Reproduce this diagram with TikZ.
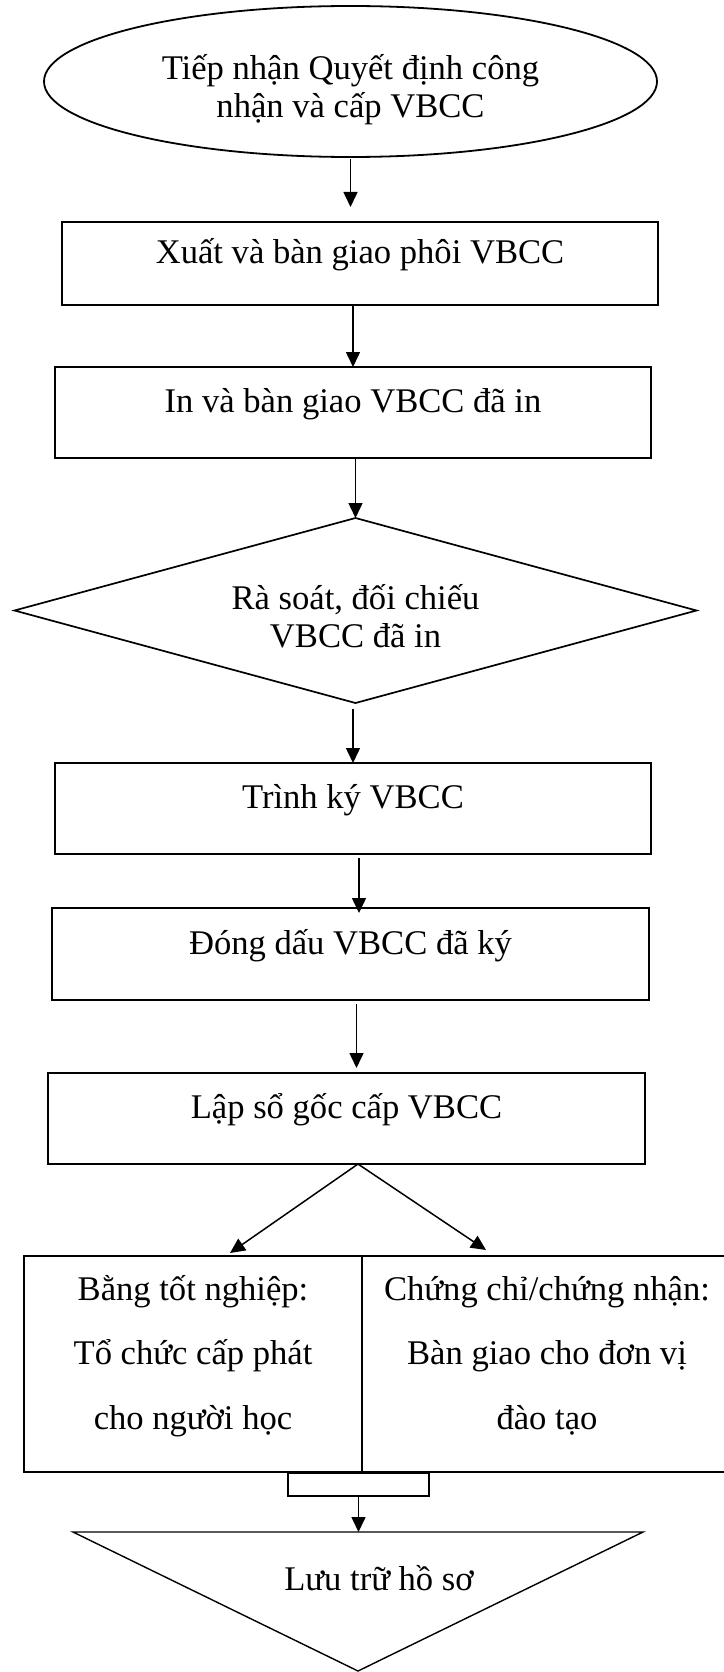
\documentclass[tikz,border=0pt]{standalone}
\usepackage{fontspec}
\setmainfont{Liberation Serif}
\usetikzlibrary{shapes.geometric,arrows.meta}

\begin{document}
\begin{tikzpicture}[x=1pt,y=-1pt,
  every node/.style={font=\fontsize{34.6pt}{38pt}\selectfont, inner sep=0pt, outer sep=0pt},
  procbox/.style={draw, rectangle, line width=2.3pt, text height=20pt, text depth=20pt},
  % multi-line nodes: the baseline is that of the last line
  startbox/.style={draw, ellipse, line width=1.8pt, align=center,
    text height=73pt, text depth=0pt, minimum width=613pt, minimum height=151pt},
  checkbox/.style={draw, diamond, aspect=3.7, line width=1.7pt, align=center,
    text height=73pt, text depth=0pt, minimum width=682pt, minimum height=185pt},
  splitbox/.style={draw, rectangle, line width=2.3pt, align=center,
    font=\fontsize{34.6pt}{64.5pt}\selectfont,
    text height=130pt, text depth=0pt, minimum height=216pt},
  archivebox/.style={draw, isosceles triangle, isosceles triangle stretches,
    shape border rotate=270, minimum width=570pt, minimum height=139pt, line width=1.4pt},
  flowarrow/.style={line width=1.5pt, -{Triangle[length=15pt,width=14pt]}},
]
\useasboundingbox (0,0) rectangle (723,1672);

% process steps
\node[startbox] (start) at (350.5,81.5) {Tiếp nhận Quyết định công\\nhận và cấp VBCC};
\node[procbox, minimum width=596pt, minimum height=83pt] (xuat) at (360,263.5) {Xuất và bàn giao phôi VBCC};
\node[procbox, minimum width=596pt, minimum height=91pt] (inbg) at (353,412.5) {In và bàn giao VBCC đã in};
\node[checkbox] (check) at (355.5,610.5) {Rà soát, đối chiếu\\VBCC đã in};
\node[procbox, minimum width=596pt, minimum height=91pt] (trinh) at (353,808.5) {Trình ký VBCC};
\node[procbox, minimum width=597pt, minimum height=92pt] (dong) at (350.5,954) {Đóng dấu VBCC đã ký};
\node[procbox, minimum width=597pt, minimum height=91pt] (lap) at (346.5,1118.5) {Lập sổ gốc cấp VBCC};

% the two delivery branches
\node[splitbox, minimum width=338pt] (grad) at (193,1364) {Bằng tốt nghiệp:\\Tổ chức cấp phát\\cho người học};
\node[splitbox, minimum width=370pt] (cert) at (547,1364) {Chứng chỉ/chứng nhận:\\Bàn giao cho đơn vị\\đào tạo};
\node[draw, rectangle, line width=1.8pt, minimum width=141pt, minimum height=23pt] (sep) at (358.5,1484.5) {};

% archive
\node[archivebox, anchor=apex] (archive) at (358,1671) {};
\node[anchor=base] (archivetext) at (379,1590) {Lưu trữ hồ sơ};

% connectors
\draw[flowarrow, shorten <=2pt, shorten >=15pt] (start.south) -- (start.south |- xuat.north);
\draw[flowarrow] (xuat.south -| inbg.north) -- (inbg.north);
\draw[flowarrow] (inbg.south -| check.north) -- (check.north);
\draw[flowarrow, shorten <=6pt] (check.south -| trinh.north) -- (trinh.north);
\draw[flowarrow, shorten <=4pt, shorten >=-5pt] ([xshift=6pt]trinh.south) -- ([xshift=6pt]trinh.south |- dong.north);
\draw[flowarrow, shorten <=4pt, shorten >=5pt] ([xshift=6pt]dong.south) -- ([xshift=6pt]dong.south |- lap.north);
\coordinate (fork) at ([xshift=11.5pt]lap.south);
\draw[flowarrow] (fork) -- ([xshift=37pt,yshift=3pt]grad.north);
\draw[flowarrow] (fork) -- ([xshift=-61pt,yshift=6pt]cert.north);
\draw[flowarrow] (sep.south) -- (sep.south |- archive.north);
\end{tikzpicture}
\end{document}
